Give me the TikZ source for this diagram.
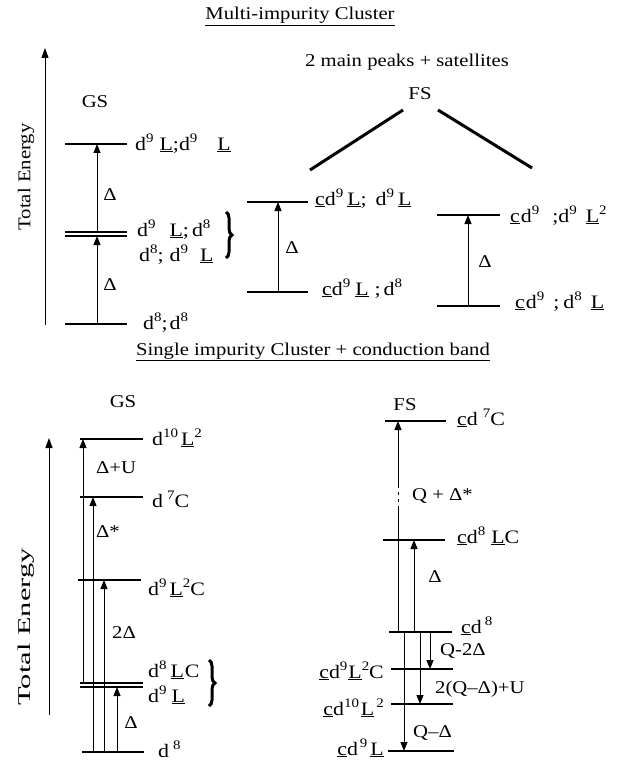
\documentclass[tikz,border=0pt]{standalone}
\usepackage{fontspec}
\setmainfont{Liberation Serif}[FakeStretch=1.15]
\usetikzlibrary{arrows.meta,decorations.pathreplacing}
\newcommand{\Lu}{\underline{L}}
\newcommand{\cu}{\underline{c}}
\newcommand{\sps}[1]{\raisebox{8pt}{\fontsize{13}{13}\selectfont #1}}
\newcommand{\hs}[1]{\hspace{#1pt}}
\begin{document}
\begin{tikzpicture}[x=1pt,y=-1pt,
  lev/.style={line width=2pt},
  levthin/.style={line width=1.4pt},
  arr/.style={line width=0.9pt,-{Triangle[length=9pt,width=7pt]}},
  stem/.style={line width=0.9pt},
  axis/.style={line width=0.9pt,-{Triangle[length=10pt,width=7pt]}},
  diag/.style={line width=3pt},
  txt/.style={font=\fontsize{18}{21}\selectfont,inner sep=0pt,anchor=base west},
  ltxt/.style={font=\fontsize{19}{22}\selectfont,inner sep=0pt,anchor=base west},
  rtxt/.style={font=\fontsize{19}{22}\selectfont,inner sep=0pt,anchor=base east},
  ctxt/.style={font=\fontsize{18}{21}\selectfont,inner sep=0pt,anchor=base},
  ttl/.style={font=\fontsize{18}{21}\selectfont,inner sep=0pt,anchor=base},
  brc/.style={decorate,decoration={brace,amplitude=6pt},line width=3pt}
]
\useasboundingbox (0,0) rectangle (617,762);

%================ TOP: Multi-impurity cluster ================
\node[ttl] (t1) at (300,20) {\underline{Multi-impurity Cluster}};
\node[ttl] (t2) at (407,67) {2 main peaks + satellites};

% axis
\coordinate (ax1a) at (45,325);
\coordinate (ax1b) at (45,48);
\draw[axis] (ax1a) -- (ax1b);
\node[font=\fontsize{18}{21}\selectfont,rotate=90,inner sep=0pt] (te1) at (26,177) {Total Energy};

% GS
\node[ctxt] (gs1) at (95,108) {GS};
\draw[lev] (65,144) coordinate (g1l) -- (127,144) coordinate (g1r);
\draw[levthin] (65,232) coordinate (g2l) -- (127,232) coordinate (g2r);
\draw[levthin] (65,236) coordinate (g3l) -- (127,236) coordinate (g3r);
\draw[lev] (65,324) coordinate (g4l) -- (127,324) coordinate (g4r);
\coordinate (ga1) at (97,144);
\coordinate (ga2) at (97,232);
\coordinate (ga3) at (97,236);
\coordinate (ga4) at (97,324);
\draw[arr] (ga2) -- (ga1);
\draw[arr] (ga4) -- (ga3);
\node[ctxt] (gd1) at (110,200) {Δ};
\node[ctxt] (gd2) at (110,290) {Δ};
\node[ltxt] (gl1) at (135,150) {d\sps{9}\hs{6}\Lu;d\sps{9}\hs{20}\Lu};
\node[ltxt] (gl2) at (137,236) {d\sps{9}\hs{14}\Lu;\hs{3}d\sps{8}};
\node[ltxt] (gl3) at (139,261) {d\sps{8};\hs{6}d\sps{9}\hs{12}\Lu};
\node[ltxt] (gl4) at (143,329) {d\sps{8};\hs{2}d\sps{8}};
\coordinate (gb1) at (226,212);
\coordinate (gb2) at (226,258);
\draw[brc] (gb1) -- (gb2);

% FS
\node[ctxt] (fs1) at (420,100) {FS};
\coordinate (d1a) at (310,170);
\coordinate (d1b) at (403,110);
\coordinate (d2a) at (438,110);
\coordinate (d2b) at (532,168);
\draw[diag] (d1a) -- (d1b);
\draw[diag] (d2a) -- (d2b);

\draw[lev] (247,202) coordinate (m1l) -- (308,202) coordinate (m1r);
\draw[lev] (247,292) coordinate (m2l) -- (308,292) coordinate (m2r);
\coordinate (ma1) at (278,202);
\coordinate (ma2) at (278,292);
\draw[arr] (ma2) -- (ma1);
\node[ctxt] (md) at (292,253) {Δ};
\node[ltxt] (ml1) at (315,205) {\cu d\sps{9}\hs{4}\Lu;\hs{9}d\sps{9}\hs{4}\Lu};
\node[ltxt] (ml2) at (322,295) {\cu d\sps{9}\hs{5}\Lu\hs{6};\hs{3}d\sps{8}};

\draw[lev] (437,215) coordinate (r1l) -- (500,215) coordinate (r1r);
\draw[lev] (437,306) coordinate (r2l) -- (500,306) coordinate (r2r);
\coordinate (ra1) at (468,215);
\coordinate (ra2) at (468,306);
\draw[arr] (ra2) -- (ra1);
\node[ctxt] (rd) at (485,267) {Δ};
\node[ltxt] (rl1) at (510,222) {\cu\hs{1}d\sps{9}\hs{13};d\sps{9}\hs{9}\Lu\sps{2}};
\node[ltxt] (rl2) at (515,308) {\cu\hs{1}d\sps{9}\hs{9};\hs{4}d\sps{8}\hs{9}\Lu};

%================ BOTTOM: single impurity cluster ================
\node[ttl] (t3) at (313,355) {\underline{Single impurity Cluster + conduction band}};

\coordinate (ax2a) at (49,715);
\coordinate (ax2b) at (49,438);
\draw[axis] (ax2a) -- (ax2b);
\node[font=\fontsize{18}{21}\selectfont,rotate=90,inner sep=0pt] (te2) at (26,627) {\scalebox{1.47}[1]{Total Energy}};

\node[ctxt] (gs2) at (123,407) {GS};
\draw[lev] (80,439) coordinate (b1l) -- (143,439) coordinate (b1r);
\draw[lev] (80,497) coordinate (b2l) -- (143,497) coordinate (b2r);
\draw[lev] (78,580) coordinate (b3l) -- (141,580) coordinate (b3r);
\draw[levthin] (80,683) coordinate (b4l) -- (143,683) coordinate (b4r);
\draw[levthin] (80,687) coordinate (b5l) -- (143,687) coordinate (b5r);
\draw[lev] (82,752) coordinate (b6l) -- (144,752) coordinate (b6r);

\coordinate (ba1s) at (83,683);  \coordinate (ba1e) at (83,439);
\coordinate (ba2s) at (93,752);  \coordinate (ba2e) at (93,497);
\coordinate (ba3s) at (104,752); \coordinate (ba3e) at (104,580);
\coordinate (ba4s) at (117,752); \coordinate (ba4e) at (117,687);
\draw[arr] (ba1s) -- (ba1e);
\draw[arr] (ba2s) -- (ba2e);
\draw[arr] (ba3s) -- (ba3e);
\draw[arr] (ba4s) -- (ba4e);

\node[ctxt] (bdu) at (116,473) {Δ+U};
\node[ctxt] (bds) at (108,537) {Δ*};
\node[ctxt] (bd2) at (124,638) {2Δ};
\node[ctxt] (bd1) at (131,728) {Δ};

\node[ltxt] (bl1) at (152,445) {d\sps{10}\hs{3}\Lu\sps{2}};
\node[ltxt] (bl2) at (152,507) {d\hs{4}\sps{7}C};
\node[ltxt] (bl3) at (148,595) {d\sps{9}\hs{3}\Lu\sps{2}C};
\node[ltxt] (bl4) at (148,677) {d\sps{8}\hs{4}\Lu\hs{1}C};
\node[ltxt] (bl5) at (148,702) {d\sps{9}\hs{5}\Lu};
\node[ltxt] (bl6) at (158,757) {d\hs{4}\sps{8}};
\coordinate (bb1) at (209,660);
\coordinate (bb2) at (209,706);
\draw[brc] (bb1) -- (bb2);

% FS bottom
\node[ctxt] (fs2) at (405,410) {FS};
\draw[lev] (385,421) coordinate (f1l) -- (446,421) coordinate (f1r);
\draw[lev] (383,540) coordinate (f2l) -- (445,540) coordinate (f2r);
\draw[lev] (389,632) coordinate (f3l) -- (452,632) coordinate (f3r);
\draw[lev] (391,669) coordinate (f4l) -- (453,669) coordinate (f4r);
\draw[lev] (391,704) coordinate (f5l) -- (453,704) coordinate (f5r);
\draw[lev] (388,751) coordinate (f6l) -- (454,751) coordinate (f6r);

% Q + Delta* arrow with a broken stretch
\coordinate (fq0) at (398,632);
\coordinate (fq1) at (398,509);
\coordinate (fq2) at (398,485);
\coordinate (fq3) at (398,421);
\draw[stem] (fq0) -- (fq1);
\draw[stem,dash pattern=on 3pt off 4pt] (fq1) -- (fq2);
\draw[arr] (fq2) -- (fq3);

\coordinate (fa1s) at (414,632); \coordinate (fa1e) at (414,540);
\coordinate (fa2s) at (430,632); \coordinate (fa2e) at (430,669);
\coordinate (fa3s) at (420,632); \coordinate (fa3e) at (420,704);
\coordinate (fa4s) at (404,632); \coordinate (fa4e) at (404,751);
\draw[arr] (fa1s) -- (fa1e);
\draw[arr] (fa2s) -- (fa2e);
\draw[arr] (fa3s) -- (fa3e);
\draw[arr] (fa4s) -- (fa4e);

\node[txt] (fqd) at (412,500) {Q + Δ*};
\node[ctxt] (fd) at (435,582) {Δ};
\node[txt] (fq2d) at (440,655) {Q-2Δ};
\node[txt] (fqu) at (435,693) {2(Q–Δ)+U};
\node[txt] (fqm) at (413,737) {Q–Δ};

\node[ltxt] (fl1) at (457,425) {\cu d\hs{5}\sps{7}C};
\node[ltxt] (fl2) at (457,543) {\cu d\sps{8}\hs{6}\Lu C};
\node[ltxt] (fl3) at (461,633) {\cu d\hs{3}\sps{8}};
\node[rtxt] (fl4) at (384,678) {\cu d\sps{9}\hs{1}\Lu\sps{2}C};
\node[rtxt] (fl5) at (384,715) {\cu d\sps{10}\hs{2}\Lu\hs{2}\sps{2}};
\node[rtxt] (fl6) at (384,755) {\cu d\hs{2}\sps{9}\hs{3}\Lu};
\end{tikzpicture}
\end{document}
